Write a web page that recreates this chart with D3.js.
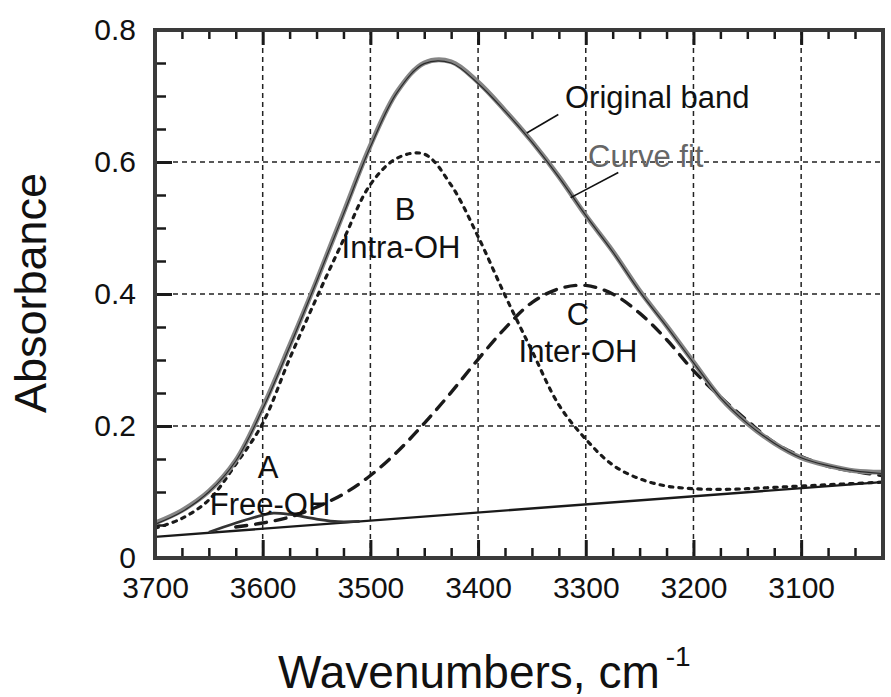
<!DOCTYPE html>
<html lang="en">
<head>
    <meta charset="UTF-8">
    <script src="https://d3js.org/d3.v7.min.js"></script>
    <title>OH band curve fit</title>
    <style>
        body { margin: 0; background: #fff; }
        text { font-family: "Liberation Sans", Arial, Helvetica, sans-serif; fill: #111; }
    </style>
</head>
<body>
    <div id="chart"></div>
    <script>

        // wavenumber grid (cm-1) shared by the big curves
        const wavenumbers = [3700, 3675, 3650, 3625, 3600, 3575, 3550, 3525, 3500, 3475, 3450, 3425, 3400, 3375,
                             3350, 3325, 3300, 3275, 3250, 3225, 3200, 3175, 3150, 3125, 3100, 3075, 3050, 3025];

        const originalBand = [0.053, 0.072, 0.101, 0.148, 0.228, 0.322, 0.420, 0.523, 0.625, 0.707, 0.750, 0.752, 0.721, 0.678,
                              0.631, 0.578, 0.519, 0.465, 0.405, 0.352, 0.297, 0.243, 0.204, 0.174, 0.152, 0.140, 0.132, 0.130];

        const curveFit = [0.051, 0.070, 0.100, 0.147, 0.226, 0.320, 0.419, 0.521, 0.623, 0.706, 0.749, 0.750, 0.719, 0.677,
                          0.630, 0.577, 0.519, 0.464, 0.404, 0.351, 0.296, 0.243, 0.204, 0.174, 0.152, 0.140, 0.132, 0.128];

        const bandB = [0.045, 0.060, 0.088, 0.142, 0.204, 0.302, 0.394, 0.482, 0.566, 0.606, 0.612, 0.565, 0.487, 0.398,
                       0.314, 0.232, 0.180, 0.141, 0.120, 0.109, 0.105, 0.104, 0.105, 0.107, 0.109, 0.111, 0.113, 0.115];

        const wavenumbersC = wavenumbers.slice(3);
        const bandC = [0.047, 0.053, 0.062, 0.077, 0.097, 0.125, 0.161, 0.204, 0.251, 0.301, 0.348,
                       0.387, 0.408, 0.413, 0.400, 0.371, 0.331, 0.284, 0.244, 0.208, 0.175, 0.154, 0.139, 0.131, 0.125];

        const wavenumbersA = [3650, 3625, 3600, 3590, 3575, 3550, 3530, 3510];
        const bandA = [0.039, 0.053, 0.065, 0.068, 0.066, 0.059, 0.055, 0.0555];

        const baseWn = [3700, 3025];
        const baseline = [0.032, 0.115];

        const xMajor = [3700, 3600, 3500, 3400, 3300, 3200, 3100];
        const yMajor = [0, 0.2, 0.4, 0.6, 0.8];

        const w = 891;
        const h = 697;
        const pL = 155, pR = 883, pT = 30, pB = 558;
        const font = '"Liberation Sans", Arial, Helvetica, sans-serif';

        const x = d3.scaleLinear().domain([3700, 3024]).range([pL, pR]);
        const y = d3.scaleLinear().domain([0, 0.8]).range([pB, pT]);

        const xMinor = d3.range(3700, 3024, -25).filter(v => v % 100 !== 0);
        const yMinor = d3.range(0.05, 0.8, 0.05).filter(v => Math.abs(v * 5 - Math.round(v * 5)) > 1e-6);

        const svg = d3.select("#chart")
                      .append("svg")
                      .attr("width", w)
                      .attr("height", h);

        //grid
        svg.append("g")
           .selectAll("line")
           .data(xMajor.slice(1))
           .enter()
           .append("line")
           .attr("x1", d => x(d)).attr("x2", d => x(d))
           .attr("y1", pT).attr("y2", pB)
           .attr("stroke", "#222").attr("stroke-width", 1.5)
           .attr("stroke-dasharray", "5,4");

        svg.append("g")
           .selectAll("line")
           .data(yMajor.slice(1, 4))
           .enter()
           .append("line")
           .attr("x1", pL).attr("x2", pR)
           .attr("y1", d => y(d)).attr("y2", d => y(d))
           .attr("stroke", "#222").attr("stroke-width", 1.5)
           .attr("stroke-dasharray", "5,4");

        //axes (ticks point inward)
        function styleAxis(g, size) {
            g.select(".domain").remove();
            g.selectAll(".tick line").attr("stroke", "#1a1a1a").attr("stroke-width", size);
            g.selectAll("text").style("font-family", font).style("font-size", "30px").attr("fill", "#111");
        }

        svg.append("g")
           .attr("transform", "translate(0," + pB + ")")
           .call(d3.axisBottom(x).tickValues(xMajor).tickSize(-18).tickPadding(19).tickFormat(d3.format("d")))
           .call(g => styleAxis(g, 3));
        svg.append("g")
           .attr("transform", "translate(0," + pB + ")")
           .call(d3.axisBottom(x).tickValues(xMinor).tickSize(-10).tickFormat(""))
           .call(g => styleAxis(g, 2.5));
        svg.append("g")
           .attr("transform", "translate(0," + pT + ")")
           .call(d3.axisTop(x).tickValues(xMajor).tickSize(-15).tickFormat(""))
           .call(g => styleAxis(g, 3));
        svg.append("g")
           .attr("transform", "translate(0," + pT + ")")
           .call(d3.axisTop(x).tickValues(xMinor).tickSize(-9).tickFormat(""))
           .call(g => styleAxis(g, 2.5));
        svg.append("g")
           .attr("transform", "translate(" + pL + ",0)")
           .call(d3.axisLeft(y).tickValues(yMajor).tickSize(-17).tickPadding(19).tickFormat(d => d === 0 ? "0" : d3.format(".1f")(d)))
           .call(g => styleAxis(g, 3));
        svg.append("g")
           .attr("transform", "translate(" + pL + ",0)")
           .call(d3.axisLeft(y).tickValues(yMinor).tickSize(-11).tickFormat(""))
           .call(g => styleAxis(g, 2.5));

        //curves
        const line = d3.line()
                       .x(d => x(d[0]))
                       .y(d => y(d[1]))
                       .curve(d3.curveCatmullRom.alpha(0.5));

        const zip = (a, b) => a.map((v, i) => [v, b[i]]);

        svg.append("path")
           .datum(zip(baseWn, baseline))
           .attr("d", line)
           .attr("fill", "none").attr("stroke", "#1a1a1a").attr("stroke-width", 2.4);

        svg.append("path")
           .datum(zip(wavenumbersA, bandA))
           .attr("d", line)
           .attr("fill", "none").attr("stroke", "#333").attr("stroke-width", 2.8);

        svg.append("path")
           .datum(zip(wavenumbersC, bandC))
           .attr("d", line)
           .attr("fill", "none").attr("stroke", "#1a1a1a").attr("stroke-width", 3.4)
           .attr("stroke-dasharray", "11,9").attr("stroke-linecap", "round");

        svg.append("path")
           .datum(zip(wavenumbers, bandB))
           .attr("d", line)
           .attr("fill", "none").attr("stroke", "#1a1a1a").attr("stroke-width", 3.2)
           .attr("stroke-dasharray", "3.5,6").attr("stroke-linecap", "round");

        svg.append("path")
           .datum(zip(wavenumbers, originalBand))
           .attr("d", line)
           .attr("fill", "none").attr("stroke", "#858585").attr("stroke-width", 4.8);

        svg.append("path")
           .datum(zip(wavenumbers, curveFit))
           .attr("d", line)
           .attr("fill", "none").attr("stroke", "#2a2a2a").attr("stroke-width", 1.2);

        //frame
        svg.append("rect")
           .attr("x", pL).attr("y", pT)
           .attr("width", pR - pL).attr("height", pB - pT)
           .attr("fill", "none").attr("stroke", "#3a3a3a").attr("stroke-width", 4);

        //annotations
        const notes = [
            { t: "Original band", x: 565, y: 108, anchor: "start", fill: "#111" },
            { t: "Curve fit", x: 588, y: 167, anchor: "start", fill: "#666" },
            { t: "B", x: 405, y: 220, anchor: "middle", fill: "#111" },
            { t: "Intra-OH", x: 401, y: 258, anchor: "middle", fill: "#111" },
            { t: "C", x: 578, y: 325, anchor: "middle", fill: "#111" },
            { t: "Inter-OH", x: 578, y: 362, anchor: "middle", fill: "#111" },
            { t: "A", x: 268, y: 478, anchor: "middle", fill: "#111" },
            { t: "Free-OH", x: 270, y: 515, anchor: "middle", fill: "#111" }
        ];
        svg.append("g")
           .selectAll("text")
           .data(notes)
           .enter()
           .append("text")
           .attr("x", d => d.x).attr("y", d => d.y)
           .attr("text-anchor", d => d.anchor)
           .style("font-size", "31px")
           .style("fill", d => d.fill)
           .text(d => d.t);

        const leaders = [[[3325.5, 0.672], [3354.8, 0.644]], [[3269.8, 0.584], [3314, 0.546]]];
        svg.append("g")
           .selectAll("line")
           .data(leaders)
           .enter()
           .append("line")
           .attr("x1", d => x(d[0][0])).attr("y1", d => y(d[0][1]))
           .attr("x2", d => x(d[1][0])).attr("y2", d => y(d[1][1]))
           .attr("stroke", "#111").attr("stroke-width", 1.6);

        //axis titles
        svg.append("text")
           .attr("transform", "translate(46,293) rotate(-90)")
           .attr("text-anchor", "middle")
           .style("font-size", "45px")
           .text("Absorbance");

        const xt = svg.append("text")
           .attr("x", 278).attr("y", 688)
           .style("font-size", "46px");
        xt.append("tspan").text("Wavenumbers, cm");
        xt.append("tspan").attr("dy", -22).attr("dx", 6).style("font-size", "28px").text("-1");

    </script>
</body>
</html>
